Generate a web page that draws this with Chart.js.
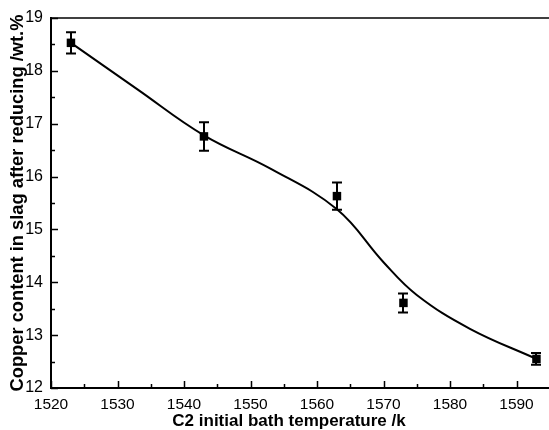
<!DOCTYPE html>
<html>
<head>
<meta charset="utf-8">
<script src="https://cdn.jsdelivr.net/npm/chart.js@4/dist/chart.umd.min.js"></script>
<style>
html,body{margin:0;padding:0;overflow:hidden;background:#fff;}
#wrap{width:590px;height:430px;}
</style>
</head>
<body>
<div id="wrap"><canvas id="c" width="590" height="430"></canvas></div>
<script>
// Data
const temps = [1523, 1543, 1563, 1573, 1593];
const copper = [18.53, 16.76, 15.63, 13.61, 12.55];
const errors = [0.20, 0.27, 0.26, 0.18, 0.11];
const fitTemps = [1523, 1533, 1543, 1553, 1563, 1570, 1575, 1583, 1593];
const fitValues = [18.53, 17.65, 16.78, 16.15, 15.38, 14.38, 13.76, 13.12, 12.55];
const xTickLabels = [1520, 1530, 1540, 1550, 1560, 1570, 1580, 1590];
const yTickLabels = [12, 13, 14, 15, 16, 17, 18, 19];
const xTitle = 'C2 initial bath temperature /k';
const yTitle = 'Copper content in slag after reducing /wt.%';

const FONT = '"Liberation Sans", Arial, sans-serif';

const framePlugin = {
  id: 'frame',
  afterDatasetsDraw(chart) {
    const ctx = chart.ctx;
    const xs = chart.scales.x, ys = chart.scales.y;
    ctx.save();
    ctx.strokeStyle = '#000';
    ctx.lineWidth = 2;
    temps.forEach((t, i) => {
      const px = Math.round(xs.getPixelForValue(t));
      const yTop = ys.getPixelForValue(copper[i] + errors[i]);
      const yBot = ys.getPixelForValue(copper[i] - errors[i]);
      ctx.beginPath();
      ctx.moveTo(px, yTop); ctx.lineTo(px, yBot);
      ctx.moveTo(px - 5, yTop); ctx.lineTo(px + 5, yTop);
      ctx.moveTo(px - 5, yBot); ctx.lineTo(px + 5, yBot);
      ctx.stroke();
    });
    ctx.restore();
  },
  afterDraw(chart) {
    const ctx = chart.ctx;
    const xs = chart.scales.x, ys = chart.scales.y;
    const area = chart.chartArea;
    ctx.save();
    ctx.strokeStyle = '#000';
    ctx.lineWidth = 1.5;
    ctx.beginPath();
    ctx.moveTo(area.left, area.top);
    ctx.lineTo(area.right, area.top);
    ctx.stroke();
    ctx.beginPath();
    for (let v = ys.min; v <= ys.max + 1e-9; v += 0.5) {
      const py = Math.round(ys.getPixelForValue(v)) + 0.5;
      const len = Math.abs(v - Math.round(v)) < 1e-9 ? 7 : 4;
      ctx.moveTo(area.left, py); ctx.lineTo(area.left + len, py);
    }
    for (let v = xs.min; v <= xs.max + 1e-9; v += 5) {
      const px = Math.round(xs.getPixelForValue(v)) + 0.5;
      const len = (v % 10 === 0) ? 7 : 4;
      ctx.moveTo(px, area.bottom); ctx.lineTo(px, area.bottom - len);
    }
    ctx.stroke();
    ctx.fillStyle = '#000';
    ctx.font = 'bold 17px ' + FONT;
    ctx.textAlign = 'center';
    ctx.textBaseline = 'middle';
    ctx.fillText(xTitle, 289, 421);
    ctx.restore();
  }
};

new Chart(document.getElementById('c'), {
  data: {
    datasets: [
      {
        type: 'line',
        data: fitTemps.map((t, i) => ({x: t, y: fitValues[i]})),
        borderColor: '#000',
        borderWidth: 2,
        pointRadius: 0,
        fill: false,
        tension: 0.4,
        order: 2
      },
      {
        type: 'scatter',
        data: temps.map((t, i) => ({x: t, y: copper[i]})),
        backgroundColor: '#000',
        borderColor: '#000',
        pointStyle: 'rect',
        pointRadius: 6,
        borderWidth: 0,
        order: 1
      }
    ]
  },
  options: {
    responsive: false,
    animation: false,
    devicePixelRatio: 1,
    layout: {padding: {top: 18, right: 3, left: 0, bottom: 0}},
    plugins: {legend: {display: false}, tooltip: {enabled: false}},
    scales: {
      x: {
        type: 'linear',
        min: 1520, max: 1600,
        grid: {display: false, drawTicks: false},
        border: {display: true, color: '#000', width: 2},
        ticks: {
          stepSize: 10,
          autoSkip: false,
          maxRotation: 0,
          padding: 7,
          color: '#000',
          font: {family: FONT, size: 15.5},
          callback: (v) => xTickLabels.includes(v) ? String(v) : ''
        },
        afterFit(scale) { scale.height = 42; }
      },
      y: {
        type: 'linear',
        min: 12, max: 19,
        grid: {display: false, drawTicks: false},
        border: {display: true, color: '#000', width: 2},
        ticks: {
          stepSize: 1,
          padding: 8,
          color: '#000',
          font: {family: FONT, size: 16},
          callback: (v) => yTickLabels.includes(v) ? String(v) : ''
        },
        title: {
          display: true,
          text: yTitle,
          color: '#000',
          font: {family: FONT, size: 18.3, weight: 'bold'},
          padding: {top: 7, bottom: 0}
        },
        afterFit(scale) { scale.width = 51; }
      }
    }
  },
  plugins: [framePlugin]
});
</script>
</body>
</html>
